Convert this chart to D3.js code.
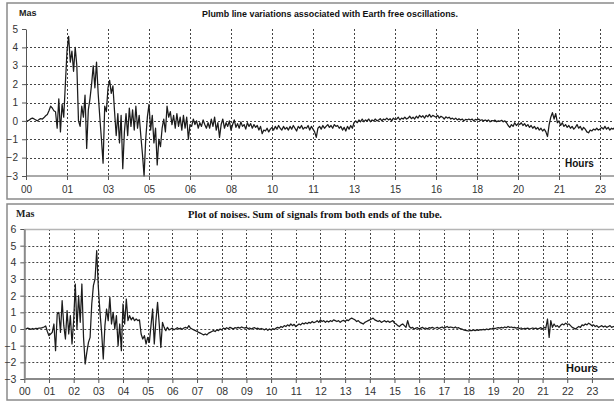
<!DOCTYPE html>
<html>
<head>
<meta charset="utf-8">
<script src="https://cdn.jsdelivr.net/npm/d3@7"></script>
<style>
  body { margin: 0; background: #fff; }
  svg { display: block; }
</style>
</head>
<body>
<svg id="chart" width="614" height="403"></svg>
<script>
// sampled every 4 minutes, 00:00 .. 24:00
const stepMinutes = 4;

// top panel: plumb line variations (mas)
const topValues = [
  -0.05, 0.0, 0.05, 0.12, 0.15, 0.1, 0.05, 0.0, 0.08, 0.12, 0.1, 0.18, 0.28, 0.35, 0.55, 0.8, 0.7, 0.55,
  0.5, -0.4, 1.2, -0.6, 0.9, 0.2, 2.0, 3.8,
  4.6, 3.2, 3.8, 2.7, 4.0, 3.0, 0.0,
  -0.3, 0.8, 0.2, 1.4, -1.5, 0.6, 1.2, 2.0,
  3.0, 1.8, 3.2, 1.5, 0.2,
  -1.0, -2.3, 0.8, 0.5, 1.8, 2.2,
  1.5, 1.9, 0.5, -0.8, 0.4, -1.2,
  0.3, -2.6, -0.6, 0.4, -0.8, 0.7,
  -0.3, 0.6, -0.5, 0.8, -0.4, 0.3,
  -0.8, -1.8, -3.0, -1.0, 0.2, 0.9,
  -0.5, 0.3, -1.2, -0.4, -2.4, -1.0,
  -1.4, -0.4, 0.1, -0.6, 0.8, 0.2,
  0.5, -0.2, 0.3, -0.4, 0.4, -0.3, 0.2, -0.5,
  0.3, -0.4, 0.2, -1.0, -0.2,
  -0.3, 0.1, -0.2, 0.0, -0.4, -0.1, -0.3, 0.05, -0.2, -0.4,
  -0.1, -0.4, 0.1, -0.3, 0.2, -0.5, -0.1, -0.9, -0.2, 0.1,
  -0.4, -0.1, -0.3, 0.0, -0.5, -0.2, 0.05, -0.35, -0.15, -0.4,
  -0.05, -0.3, -0.2, -0.45, -0.1, -0.3, -0.15, -0.4, -0.2, -0.35,
  -0.25, -0.5, -0.3, -0.7, -0.5, -0.55, -0.4, -0.6, -0.45, -0.35,
  -0.5, -0.3, -0.45, -0.25, -0.4, -0.5, -0.3, -0.45, -0.35, -0.5,
  -0.3, -0.45, -0.25, -0.4, -0.55, -0.3, -0.4, -0.25, -0.45, -0.35,
  -0.4, -0.25, -0.5, -0.3, -0.45, -0.6, -0.9, -0.4, -0.3, -0.45,
  -0.25, -0.4, -0.3, -0.2, -0.35, -0.25, -0.4, -0.2, -0.3, -0.25,
  -0.4, -0.3, -0.5, -0.35, -0.55, -0.3, -0.45, -0.25, -0.4, -0.1,
  0.0, -0.1, 0.05, -0.05, 0.1, -0.05, 0.05, 0.0, 0.1, -0.05,
  0.05, 0.0, 0.1, 0.0, 0.05, 0.12, 0.0, 0.1, 0.05, 0.15,
  0.05, 0.12, 0.0, 0.15, 0.08, 0.1, 0.2, 0.05, 0.15, 0.1,
  0.2, 0.1, 0.15, 0.25, 0.12, 0.2, 0.1, 0.25, 0.15, 0.3,
  0.2, 0.28, 0.15, 0.3, 0.22, 0.35, 0.2, 0.3, 0.25, 0.2,
  0.3, 0.15, 0.25, 0.2, 0.1, 0.22, 0.15, 0.2, 0.1, 0.15,
  0.08, 0.15, 0.05, 0.12, 0.05, 0.1, 0.0, 0.08, 0.05, 0.1,
  0.05, 0.1, 0.0, 0.08, 0.05, 0.1, 0.02, 0.06, 0.0, 0.05,
  0.0, 0.05, -0.05, 0.02, 0.0, 0.04, -0.05, 0.0, -0.02, 0.03,
  -0.05, 0.0, -0.1, -0.25, -0.35, -0.2, -0.3, -0.1, -0.25, -0.15,
  -0.2, -0.1, -0.25, -0.15, -0.3, -0.2, -0.35, -0.25, -0.4, -0.3,
  -0.45, -0.35, -0.5, -0.4, -0.55, -0.45, -0.6, -0.85, -0.2, 0.2,
  0.45, 0.1, 0.4, -0.1, 0.0, -0.25, -0.1, -0.3, -0.2, -0.35,
  -0.25, -0.4, -0.3, -0.45, -0.35, -0.2, -0.4, -0.3, -0.5, -0.35,
  -0.45, -0.6, -0.65, -0.5, -0.55, -0.45, -0.5, -0.4, -0.5, -0.45,
  -0.35, -0.45, -0.3, -0.45, -0.35, -0.5, -0.4, -0.45, -0.35, -0.45
];

// bottom panel: noise, sum of both tube ends (mas)
const bottomValues = [
  0.05, 0.0, 0.05, 0.02, -0.02, 0.03, 0.0, 0.04, 0.02, 0.06,
  0.05, 0.08, 0.12, 0.18, -0.15, -0.4, -0.3, -0.2, 0.3, -1.3,
  0.9, 1.0, -0.2, 1.7, 0.2, -0.6, 1.1, -0.3, 0.8, -0.9,
  0.5, 2.7, 0.0, 2.0, 0.4, 2.7, -0.5, -2.1, -1.4, -0.8,
  -0.5, 1.5, 2.6, 3.0, 4.7, 2.5, 1.0, -0.2, -1.8, 0.2,
  1.2, 0.5, 1.9, 0.3, 1.0, 0.0, 0.8, -1.0, 0.3, -1.3,
  1.5, 0.3, 1.8, 0.5, 0.8, 0.55, 0.7, 0.5, 0.6, 0.5,
  0.55, -0.3, -0.6, -0.4, -0.9, -0.5, -0.8, 0.2, 1.2, -0.9,
  0.5, 1.6, 0.3, -1.1, 0.4, 0.1, -0.1, 0.1, -0.05, 0.0,
  0.05, -0.05, 0.02, 0.08, 0.0, 0.05, -0.02, 0.06, 0.1, 0.04,
  0.2, 0.05, 0.0, -0.05, -0.1, -0.15, -0.2, -0.25, -0.3, -0.35,
  -0.3, -0.35, -0.25, -0.2, -0.15, -0.1, -0.15, -0.05, -0.1, 0.0,
  -0.05, 0.05, 0.0, 0.08, 0.02, 0.1, 0.05, 0.0, 0.08, 0.05,
  0.1, 0.05, 0.12, 0.08, 0.05, 0.1, 0.02, 0.06, 0.0, 0.05,
  0.08, 0.02, 0.05, -0.02, 0.03, 0.0, -0.05, 0.02, -0.08, 0.0,
  -0.05, 0.02, -0.03, 0.05, 0.1, 0.05, 0.15, 0.1, 0.2, 0.15,
  0.25, 0.18, 0.3, 0.2, 0.28, 0.15, 0.22, 0.3, 0.25, 0.35,
  0.3, 0.38, 0.32, 0.4, 0.35, 0.45, 0.38, 0.42, 0.5, 0.4,
  0.55, 0.45, 0.5, 0.4, 0.48, 0.42, 0.5, 0.45, 0.55, 0.5,
  0.45, 0.5, 0.4, 0.48, 0.52, 0.45, 0.55, 0.5, 0.6, 0.65,
  0.6, 0.55, 0.45, 0.5, 0.4, 0.35, 0.3, 0.4, 0.45, 0.5,
  0.55, 0.6, 0.65, 0.55, 0.5, 0.45, 0.5, 0.4, 0.45, 0.5,
  0.42, 0.48, 0.4, 0.45, 0.5, 0.35, 0.3, 0.2, 0.15, 0.25,
  0.3, 0.2, 0.1, 0.5, 0.15, 0.05, 0.1, 0.0, 0.05, 0.08,
  0.0, 0.05, 0.1, 0.02, 0.06, 0.0, 0.08, 0.05, 0.1, 0.04,
  0.06, 0.1, 0.03, 0.08, 0.12, 0.05, 0.1, 0.15, 0.08, 0.12,
  0.1, 0.06, 0.12, 0.05, 0.08, 0.02, 0.0, -0.05, -0.08, -0.1,
  -0.12, -0.08, -0.1, -0.06, -0.1, -0.05, -0.08, -0.04, -0.06, -0.02,
  -0.05, 0.0, -0.04, 0.02, 0.0, 0.05, 0.02, 0.06, 0.08, 0.05,
  0.1, 0.06, 0.12, 0.08, 0.15, 0.1, 0.12, 0.08, 0.1, 0.05,
  0.08, 0.03, 0.06, 0.0, 0.04, 0.02, 0.05, 0.0, 0.03, 0.06,
  0.02, 0.05, 0.0, 0.04, 0.08, 0.0, 0.1, 0.05, 0.6, -0.5,
  0.5, 0.1, 0.3, 0.15, 0.2, 0.1, 0.22, 0.3, 0.25, 0.35,
  0.28, 0.3, 0.2, 0.1, 0.05, 0.0, 0.08, 0.15, 0.1, 0.25,
  0.2, 0.3, 0.25, 0.35, 0.28, 0.2, 0.25, 0.15, 0.2, 0.1,
  0.15, 0.2, 0.12, 0.18, 0.1, 0.15, 0.2, 0.1, 0.15, 0.12, 0.1
];

// tick labels: top axis every 100 minutes, bottom every hour
const topTickMinutes = d3.range(0, 1401, 100);
const topTickLabels = ["00", "01", "03", "05", "06", "08", "10", "11", "13", "15", "16", "18", "20", "21", "23"];
const bottomTickMinutes = d3.range(0, 1381, 60);
const bottomTickLabels = ["00", "01", "02", "03", "04", "05", "06", "07", "08", "09", "10", "11",
  "12", "13", "14", "15", "16", "17", "18", "19", "20", "21", "22", "23"];

const topTitle = "Plumb line variations associated with Earth free oscillations.";
const bottomTitle = "Plot of noises. Sum of signals from both ends of the tube.";

const svg = d3.select("#chart");
const sans = "'Liberation Sans', Arial, sans-serif";
const serif = "'Liberation Serif', 'Times New Roman', serif";

function drawPanel(cfg) {
  const g = svg.append("g");

  // frame
  g.append("rect")
    .attr("x", 7).attr("y", cfg.frameTop)
    .attr("width", 620).attr("height", cfg.frameHeight)
    .attr("fill", "none").attr("stroke", "#8a8a8a").attr("stroke-width", 1.5);

  const x = d3.scaleLinear().domain([0, 1440]).range([cfg.left, cfg.right]);
  const y = d3.scaleLinear().domain(cfg.yDomain).range([cfg.bottom, cfg.top]);

  const yTicks = d3.range(cfg.yDomain[0], cfg.yDomain[1] + 1);

  // horizontal grid
  g.append("g")
    .selectAll("line")
    .data(yTicks.filter(v => v > cfg.yDomain[0] && v < cfg.yDomain[1]))
    .join("line")
    .attr("x1", cfg.left).attr("x2", 614)
    .attr("y1", d => Math.round(y(d)) + 0.5).attr("y2", d => Math.round(y(d)) + 0.5)
    .attr("stroke", "#444").attr("stroke-dasharray", "2,2");

  // vertical grid
  g.append("g")
    .selectAll("line")
    .data(cfg.xTicks.slice(1))
    .join("line")
    .attr("x1", d => Math.round(x(d)) + 0.5).attr("x2", d => Math.round(x(d)) + 0.5)
    .attr("y1", cfg.top).attr("y2", cfg.bottom)
    .attr("stroke", "#444").attr("stroke-dasharray", "2,2");

  if (cfg.topLine) {
    g.append("line")
      .attr("x1", cfg.left).attr("x2", 614)
      .attr("y1", cfg.top + 0.5).attr("y2", cfg.top + 0.5)
      .attr("stroke", "#b5b5b5").attr("stroke-width", 1.5);
  }

  // signal
  const line = d3.line()
    .x((d, i) => x(i * stepMinutes))
    .y(d => y(d));

  g.append("path")
    .datum(cfg.values)
    .attr("d", line)
    .attr("fill", "none")
    .attr("stroke", "#1c1c1c")
    .attr("stroke-width", 1.25)
    .attr("stroke-linejoin", "round");

  // axes
  const yAxis = g.append("g")
    .attr("transform", `translate(${cfg.left},0)`)
    .call(d3.axisLeft(y).tickValues(yTicks).tickFormat(d3.format("d"))
      .tickSize(4).tickSizeOuter(0).tickPadding(4));

  const xAxis = g.append("g")
    .attr("transform", `translate(0,${cfg.bottom})`)
    .call(d3.axisBottom(x).tickValues(cfg.xTicks).tickFormat((d, i) => cfg.xLabels[i])
      .tickSize(4).tickSizeOuter(0).tickPadding(cfg.xPad));

  [yAxis, xAxis].forEach(a => {
    a.select(".domain").attr("stroke", cfg.axisColor).attr("stroke-width", cfg.axisWidth);
    a.selectAll(".tick line").attr("stroke", "#555");
    a.selectAll("text")
      .attr("fill", "#333")
      .style("font-family", sans)
      .style("font-size", cfg.tickSize);
  });
  xAxis.select(".domain").attr("d", `M${cfg.left},0H614`);

  // texts
  g.append("text")
    .attr("x", cfg.masX).attr("y", cfg.frameTop + 13)
    .style("font-family", cfg.font).style("font-size", cfg.masSize)
    .style("font-weight", "bold").attr("fill", "#222")
    .text("Mas");

  g.append("text")
    .attr("x", cfg.titleX).attr("y", cfg.frameTop + 14)
    .attr("text-anchor", "middle")
    .attr("textLength", cfg.titleLen).attr("lengthAdjust", "spacingAndGlyphs")
    .style("font-family", cfg.font).style("font-size", cfg.titleSize)
    .style("font-weight", "bold").attr("fill", "#111")
    .text(cfg.title);

  g.append("text")
    .attr("x", cfg.hoursX).attr("y", cfg.hoursY)
    .style("font-family", sans).style("font-size", cfg.hoursSize)
    .style("font-weight", "bold").attr("fill", "#111")
    .text("Hours");
}

drawPanel({
  frameTop: 3, frameHeight: 196,
  left: 26, right: 616.4, top: 29, bottom: 176,
  yDomain: [-3, 5], values: topValues,
  xTicks: topTickMinutes, xLabels: topTickLabels, xPad: 6, tickSize: "10px",
  axisColor: "#555", axisWidth: 1, topLine: false,
  font: sans, titleSize: "8.5px", masX: 19, masSize: "9px",
  title: topTitle, titleX: 330, titleLen: 256,
  hoursX: 565, hoursY: 167, hoursSize: "10px"
});

drawPanel({
  frameTop: 204, frameHeight: 196,
  left: 24.3, right: 616.6, top: 229, bottom: 379,
  yDomain: [-3, 6], values: bottomValues,
  xTicks: bottomTickMinutes, xLabels: bottomTickLabels, xPad: 5, tickSize: "10.5px",
  axisColor: "#8a8a8a", axisWidth: 2, topLine: true,
  font: serif, titleSize: "9.5px", masX: 16, masSize: "10px",
  title: bottomTitle, titleX: 315, titleLen: 254,
  hoursX: 566, hoursY: 372, hoursSize: "11px"
});
</script>
</body>
</html>
